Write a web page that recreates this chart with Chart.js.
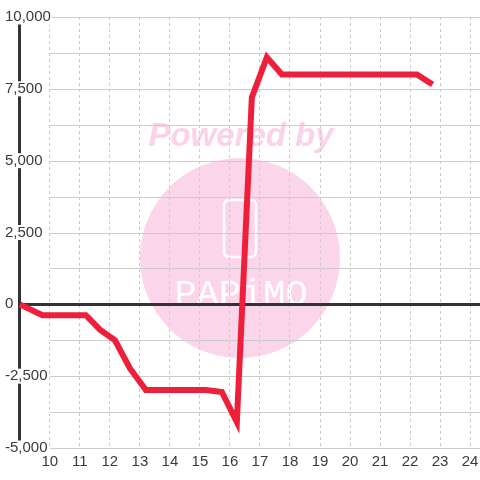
<!DOCTYPE html>
<html>
<head>
<meta charset="utf-8">
<script src="https://cdn.jsdelivr.net/npm/chart.js@4/dist/chart.umd.min.js"></script>
<style>
  html, body { margin: 0; padding: 0; background: #fff; }
  #wrap { width: 480px; height: 480px; position: relative; }
</style>
</head>
<body>
<div id="wrap"><canvas id="chart"></canvas></div>
<script>
const X_VALUES = [9.0, 9.75, 11.2, 11.67, 12.17, 12.67, 13.2, 13.7, 14.2, 14.7, 15.2, 15.73, 16.23,
  16.73, 17.23, 17.73, 18.23, 18.73, 19.23, 19.73, 20.23, 20.73, 21.23, 21.73, 22.23, 22.75];
const Y_VALUES = [0, -380, -380, -880, -1250, -2230, -2980, -2980, -2980, -2980, -2980, -3050, -4100,
  7200, 8600, 8000, 8000, 8000, 8000, 8000, 8000, 8000, 8000, 8000, 8000, 7650];
const Y_TICKS = { min: -5000, max: 10000, step: 1250, labelEvery: 2500 };
const X_TICKS = { min: 8.34, max: 24.33, step: 1, axisAt: 9, first: 10 };

const LINE_COLOR = '#ee1f3b';
const AXIS_DARK = '#333333';
const GRID = '#cccccc';
const TEXT = '#3a3a3a';
const FONT = { family: '"Liberation Sans"', size: 15 };

// watermark behind the grid
const watermark = {
  id: 'watermark',
  beforeDraw(chart) {
    const ctx = chart.ctx;
    ctx.save();
    ctx.fillStyle = '#fbd6ea';
    ctx.beginPath();
    ctx.arc(240, 258, 100, 0, Math.PI * 2);
    ctx.fill();
    ctx.font = 'italic bold 33px "Liberation Sans"';
    ctx.textAlign = 'center';
    ctx.textBaseline = 'alphabetic';
    ctx.fillStyle = '#fbd3e8';
    ctx.fillText('Powered by', 241, 146);
    ctx.strokeStyle = '#ffffff';
    ctx.lineWidth = 2.5;
    ctx.beginPath();
    ctx.roundRect(224, 200, 32, 57, 5);
    ctx.stroke();
    ctx.fillStyle = '#ffffff';
    ctx.font = '37px "Liberation Mono"';
    ctx.fillText('PAPiMO', 241, 305);
    ctx.restore();
  },
};

// horizontal grid lines start at the first labelled x tick
const partialGrid = {
  id: 'partialGrid',
  beforeDraw(chart) {
    const { ctx, chartArea, scales } = chart;
    const startX = Math.round(scales.x.getPixelForValue(X_TICKS.first));
    ctx.save();
    ctx.strokeStyle = GRID;
    ctx.lineWidth = 1;
    for (const t of scales.y.ticks) {
      if (t.value === 0) continue;
      const y = Math.round(scales.y.getPixelForValue(t.value)) + 0.5;
      ctx.beginPath();
      ctx.moveTo(startX, y);
      ctx.lineTo(chartArea.right, y);
      ctx.stroke();
    }
    ctx.restore();
  },
  // zero line starts at the y axis and sits above the grid
  beforeDatasetsDraw(chart) {
    const { ctx, chartArea, scales } = chart;
    const startX = scales.x.getPixelForValue(X_TICKS.axisAt) - 1.5;
    const y = Math.round(scales.y.getPixelForValue(0)) + 0.5;
    ctx.save();
    ctx.strokeStyle = AXIS_DARK;
    ctx.lineWidth = 3;
    ctx.beginPath();
    ctx.moveTo(startX, y);
    ctx.lineTo(chartArea.right, y);
    ctx.stroke();
    ctx.restore();
  },
};

const points = X_VALUES.map((x, i) => ({ x, y: Y_VALUES[i] }));

new Chart(document.getElementById('chart'), {
  type: 'line',
  data: {
    datasets: [{
      data: points,
      borderColor: LINE_COLOR,
      borderWidth: 6,
      borderCapStyle: 'butt',
      borderJoinStyle: 'miter',
      pointRadius: 0,
      tension: 0,
      fill: false,
    }],
  },
  options: {
    responsive: true,
    maintainAspectRatio: false,
    animation: false,
    events: [],
    layout: { padding: { top: 17, right: 0, bottom: 4, left: 0 } },
    plugins: { legend: { display: false }, tooltip: { enabled: false } },
    scales: {
      x: {
        type: 'linear',
        min: X_TICKS.min,
        max: X_TICKS.max,
        afterFit: s => { s.paddingLeft = 0; s.paddingRight = 0; },
        border: { display: false, dash: ctx => (ctx.tick && ctx.tick.value === X_TICKS.axisAt ? [] : [3, 3]) },
        grid: {
          drawTicks: false,
          color: ctx => (ctx.tick && ctx.tick.value === X_TICKS.axisAt ? AXIS_DARK : GRID),
          lineWidth: ctx => (ctx.tick && ctx.tick.value === X_TICKS.axisAt ? 3 : 1),
        },
        ticks: {
          stepSize: X_TICKS.step,
          includeBounds: false,
          padding: 5,
          color: TEXT,
          font: FONT,
          maxRotation: 0,
          autoSkip: false,
          callback: v => (v < X_TICKS.first ? '' : String(v)),
        },
      },
      y: {
        min: Y_TICKS.min,
        max: Y_TICKS.max,
        afterFit: s => { s.width = 0; },
        border: { display: false },
        grid: { display: false },
        ticks: {
          stepSize: Y_TICKS.step,
          mirror: true,
          padding: 5,
          color: TEXT,
          font: { ...FONT, lineHeight: 1 },
          showLabelBackdrop: ctx => ctx.tick && ctx.tick.value % Y_TICKS.labelEvery === 0,
          backdropColor: '#ffffff',
          backdropPadding: { top: 0, bottom: 0, left: 2, right: 1 },
          callback: v => (v % Y_TICKS.labelEvery === 0 ? v.toLocaleString('en-US') : ''),
        },
      },
    },
  },
  plugins: [watermark, partialGrid],
});
</script>
</body>
</html>
